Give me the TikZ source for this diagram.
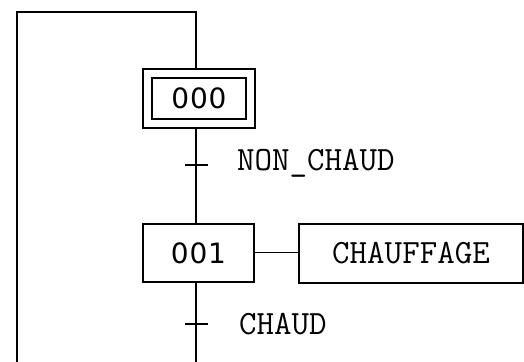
\documentclass[tikz,border=0pt]{standalone}
\usepackage{fontspec}
\newfontfamily\stepfont[LetterSpace=3]{DejaVu Sans}
\usepackage{tikz}

\begin{document}
\begin{tikzpicture}
  [x=0.5pt,y=-0.5pt,line width=1pt,
   every node/.style={inner sep=0pt,outer sep=0pt},
   stepbox/.style={draw,minimum width=55.5pt,minimum height=29pt,font=\stepfont\fontsize{14}{14}\selectfont},
   initouter/.style={draw,line width=0.6pt,minimum width=56pt,minimum height=29.5pt},
   initinner/.style={draw,line width=0.6pt,minimum width=47pt,minimum height=20.5pt,font=\stepfont\fontsize{14}{14}\selectfont},
   actbox/.style={draw,minimum width=112pt,minimum height=29.5pt,font=\ttfamily\fontsize{17}{17}\selectfont},
   cond/.style={anchor=west,font=\ttfamily\fontsize{17}{17}\selectfont}]
  \useasboundingbox (0,0) rectangle (524,362);

  \coordinate (corner) at (17,12);
  \coordinate (top) at (196,12);
  \coordinate (loopend) at (17,362);
  \coordinate (bot) at (196,362);

  \node[initouter] (init) at (199,98.5) {};
  \node[initinner] (s000) at (199,98.5) {000};
  \node[stepbox] (s001) at (198.5,253) {001};
  \node[actbox] (act) at (411,253.5) {CHAUFFAGE};

  \coordinate (t1) at (196,165);
  \coordinate (t2) at (196,324);
  \node[cond] (c1) at (237,163) {NON\_CHAUD};
  \node[cond] (c2) at (239,324) {CHAUD};

  % loop back
  \draw (bot) -- (s001.south -| bot);
  \draw (s001.north -| bot) -- (init.south -| bot);
  \draw (init.north -| top) -- (top) -- (corner) -- (loopend);

  % transitions
  \foreach \t in {t1,t2}
    \draw (\t) ++(-11,0) -- ++(23,0);

  % action
  \draw[line width=0.5pt] (s001.east) -- (s001.east -| act.west);
\end{tikzpicture}
\end{document}
